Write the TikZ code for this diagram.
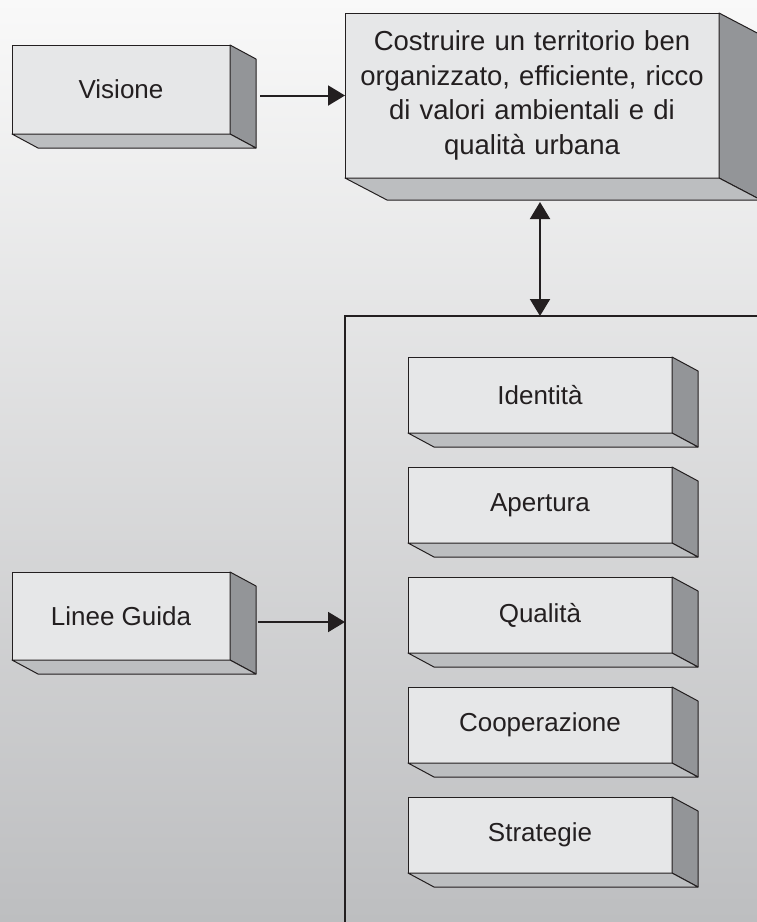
\documentclass[tikz,border=0pt]{standalone}
\usepackage{fontspec}
\setmainfont{Liberation Sans}
\usetikzlibrary{arrows.meta}
\definecolor{slabFront}{RGB}{230, 231, 232}
\definecolor{slabRight}{RGB}{147, 149, 152}
\definecolor{slabBottom}{RGB}{188, 190, 192}
\definecolor{slabLine}{RGB}{35, 31, 32}
\definecolor{bgTop}{RGB}{249, 249, 249}
\definecolor{bgBottom}{RGB}{189, 190, 192}

\begin{document}
\begin{tikzpicture}[x=1pt,y=-1pt]
  \tikzstyle{slab} = [draw=slabLine, fill=slabFront, line width=1pt, outer sep=0pt, inner sep=0pt,
                      font=\fontsize{26pt}{33pt}\selectfont, align=center, text=slabLine]
  \tikzstyle{rside} = [draw=slabLine, fill=slabRight, line width=1pt, line join=round]
  \tikzstyle{bside} = [draw=slabLine, fill=slabBottom, line width=1pt, line join=round]
  \tikzstyle{arr} = [-{Triangle[length=17pt,width=20pt]}, draw=slabLine, line width=2pt]
  \tikzstyle{arrboth} = [{Triangle[length=17pt,width=20pt]}-{Triangle[length=17pt,width=20pt]}, draw=slabLine, line width=2pt]

  \useasboundingbox (0,0) rectangle (757,922);
  \clip (0,0) rectangle (757,922);
  \shade[top color=bgTop, bottom color=bgBottom] (0,0) rectangle (757,922);

  % left column
  \node[slab, minimum width=218pt, minimum height=89pt] (vis) at (121,89.5) {Visione};
  \node[slab, minimum width=218pt, minimum height=88pt] (lg) at (121,616) {Linee Guida};

  % vision statement
  \node[slab, minimum width=374pt, minimum height=165pt, text width=370pt,
        font=\fontsize{27.5pt}{34.5pt}\selectfont] (goal) at (532,95.5)
    {Costruire un territorio ben\\organizzato, efficiente, ricco\\di valori ambientali e di\\qualità urbana};

  % guidelines frame
  \node[draw=slabLine, line width=1.8pt, outer sep=0pt, minimum width=440pt, minimum height=650pt] (frame) at (565,641) {};
  \node[slab, minimum width=264pt, minimum height=76pt] (ident) at (540,395) {Identità};
  \node[slab, minimum width=264pt, minimum height=76pt] (apert) at (540,505) {Apertura};
  \node[slab, minimum width=264pt, minimum height=76pt] (qual) at (540,615) {Qualità};
  \node[slab, minimum width=264pt, minimum height=76pt] (coop) at (540,725) {Cooperazione};
  \node[slab, minimum width=264pt, minimum height=76pt] (strat) at (540,835) {Strategie};

  % depth faces
  \foreach \n/\dx/\dy in {vis/26/14, lg/26/14, goal/42/22, ident/26/14, apert/26/14, qual/26/14, coop/26/14, strat/26/14} {
    \filldraw[rside] (\n.north east) -- ++(\dx,\dy) -- ([shift={(\dx,\dy)}]\n.south east) -- (\n.south east) -- cycle;
    \filldraw[bside] (\n.south west) -- (\n.south east) -- ++(\dx,\dy) -- ([shift={(\dx,\dy)}]\n.south west) -- cycle;
  }

  \draw[arr] ([xshift=30pt]vis.east |- goal.west) -- (goal.west);
  \draw[arr] ([xshift=28pt,yshift=-6pt]lg.east) coordinate (lgout) -- (lgout -| frame.west);
  \draw[arrboth] ([yshift=-24pt]goal.south -| ident.north) -- (ident.north |- frame.north);
\end{tikzpicture}
\end{document}
